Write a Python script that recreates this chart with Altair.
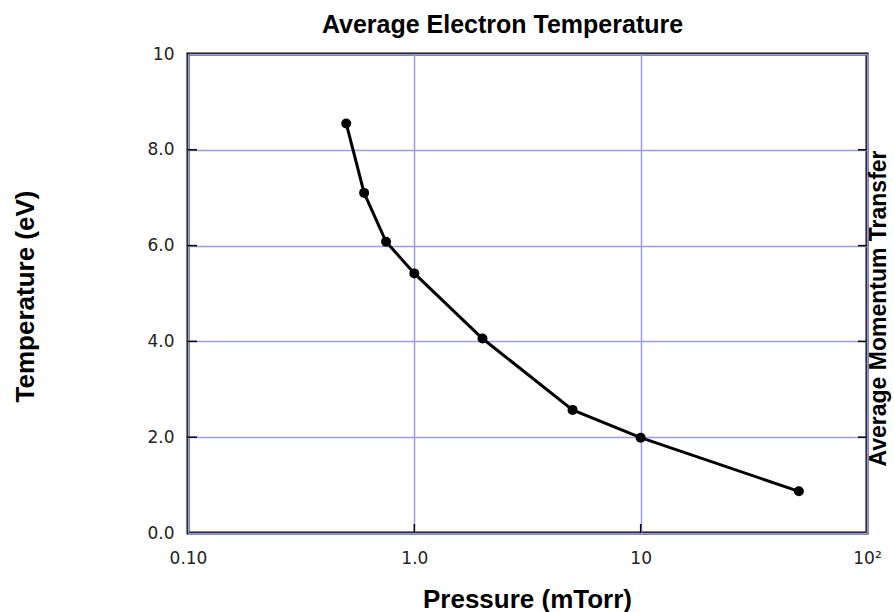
import altair as alt
import pandas as pd

# Data
pressure = [0.5, 0.6, 0.75, 1.0, 2.0, 5.0, 10.0, 50.0]
temperature = [8.55, 7.1, 6.08, 5.42, 4.06, 2.57, 1.99, 0.87]

x_tick_values = [0.1, 1, 10, 100]
x_tick_labels = ["0.10", "1.0", "10", "10²"]
y_tick_values = [0, 2, 4, 6, 8, 10]
y_tick_labels = ["0.0", "2.0", "4.0", "6.0", "8.0", "10"]
x_inner_ticks = [1, 10]
y_inner_ticks = [2, 4, 6, 8]

W, H = 679, 479
GRID = "#9a9aee"
LABEL_FONT = "DejaVu Sans"
TITLE_FONT = "Liberation Sans"


def label_expr(values, labels):
    expr = "''"
    for v, lab in reversed(list(zip(values, labels))):
        expr = f"(abs(datum.value - {v}) < {v if v else 1} * 1e-6) ? '{lab}' : {expr}"
    return expr


df = pd.DataFrame({"P": pressure, "T": temperature})
ytk = pd.DataFrame({"v": y_inner_ticks})
xtk = pd.DataFrame({"P": x_inner_ticks})

xscale = alt.Scale(type="log", domain=[0.1, 100], nice=False)
yscale = alt.Scale(domain=[0, 10], nice=False, zero=False)

x_axis = alt.Axis(
    values=x_tick_values,
    labelExpr=label_expr(x_tick_values, x_tick_labels),
    grid=True, gridColor=GRID, gridWidth=1.5,
    ticks=False, domain=False,
    labelFont=LABEL_FONT, labelFontSize=17, labelColor="#222222",
    labelPadding=17, labelFlush=False, labelOverlap=False, labelBound=False,
    title="Pressure (mTorr)", titleFont=TITLE_FONT, titleFontSize=26,
    titleFontWeight="bold", titleColor="black",
    titleX=339, titleY=74, titleAlign="center", titleBaseline="alphabetic",
)
y_axis = alt.Axis(
    values=y_tick_values,
    labelExpr=label_expr(y_tick_values, y_tick_labels),
    grid=True, gridColor=GRID, gridWidth=1.5,
    ticks=False, domain=False,
    labelFont=LABEL_FONT, labelFontSize=17, labelColor="#222222",
    labelPadding=14, labelFlush=False, labelOverlap=False, labelBound=False,
    title="Temperature (eV)", titleFont=TITLE_FONT, titleFontSize=26,
    titleFontWeight="bold", titleColor="black", titleAngle=270,
    titleX=-155, titleY=242, titleAlign="center", titleBaseline="alphabetic",
)

X = alt.X("P:Q", scale=xscale, axis=x_axis)

line = alt.Chart(df).mark_line(color="black", strokeWidth=3).encode(
    x=X,
    y=alt.Y("T:Q", scale=yscale, axis=y_axis),
)
points = alt.Chart(df).mark_circle(color="black", size=100, opacity=1).encode(
    x=X,
    y=alt.Y("T:Q", scale=yscale, axis=None),
)
left_ticks = alt.Chart(ytk).mark_rule(color="black", strokeWidth=1.5).encode(
    y=alt.Y("v:Q", scale=yscale, axis=None),
    x=alt.value(0), x2=alt.value(9),
)
right_ticks = alt.Chart(ytk).mark_rule(color="black", strokeWidth=1.5).encode(
    y=alt.Y("v:Q", scale=yscale, axis=alt.Axis(
        orient="right", labels=False, ticks=False, domain=False, grid=False,
        title="Average Momentum Transfer", titleFont=TITLE_FONT, titleFontSize=23,
        titleFontWeight="bold", titleColor="black", titleAngle=270,
        titleX=18, titleY=254, titleAlign="center", titleBaseline="alphabetic",
    )),
    x=alt.value(W - 9), x2=alt.value(W),
)
bottom_ticks = alt.Chart(xtk).mark_rule(color="black", strokeWidth=1.5).encode(
    x=X,
    y=alt.value(H - 9), y2=alt.value(H),
)

chart = (
    alt.layer(line, points, left_ticks, right_ticks, bottom_ticks)
    .resolve_scale(y="independent")
    .properties(
        width=W, height=H,
        autosize=alt.AutoSizeParams(type="none"),
        padding={"left": 188, "top": 54, "right": 27, "bottom": 79},
        title=alt.TitleParams(
            "Average Electron Temperature", font=TITLE_FONT, fontSize=25,
            fontWeight="bold", color="black", anchor="middle", dx=-25,
            offset=7,
        ),
        background="white",
    )
    .configure_view(stroke="black", strokeWidth=3)
)

chart.save("out.html", embed_options={"renderer": "svg", "actions": False})
